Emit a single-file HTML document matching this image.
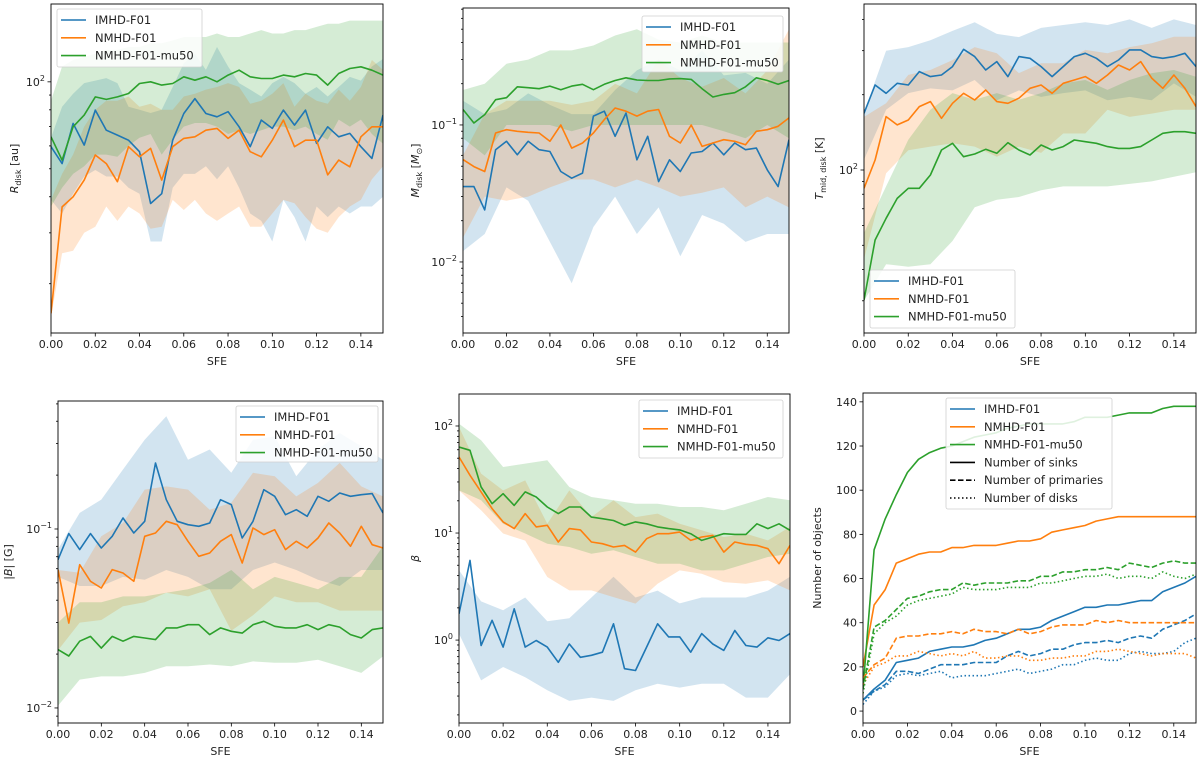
<!DOCTYPE html>
<html><head><meta charset="utf-8"><style>
html,body{margin:0;padding:0;background:#fff}
svg{display:block;font-family:"DejaVu Sans","Liberation Sans",sans-serif}
</style></head><body>
<svg id="fig" width="1200" height="761" viewBox="0 0 1200 761" xmlns="http://www.w3.org/2000/svg"></svg>
<script>
const sfeFine=[0,0.005,0.01,0.015,0.02,0.025,0.03,0.035,0.04,0.045,0.05,0.055,0.06,0.065,0.07,0.075,0.08,0.085,0.09,0.095,0.1,0.105,0.11,0.115,0.12,0.125,0.13,0.135,0.14,0.145,0.15];
const sfeCoarse=[0,0.01,0.02,0.03,0.04,0.05,0.06,0.07,0.08,0.09,0.1,0.11,0.12,0.13,0.14,0.15];
const xTicks=[0,0.02,0.04,0.06,0.08,0.10,0.12,0.14];
const xTickLabels=["0.00","0.02","0.04","0.06","0.08","0.10","0.12","0.14"];
const seriesNames=["IMHD-F01","NMHD-F01","NMHD-F01-mu50"];

// Panel 1: R_disk
const p1Blue=[59.6,52.1,71.8,60.4,79.8,68.0,65.4,62.8,57.3,37.9,41.0,62.8,77.7,87.5,77.7,75.7,78.8,69.9,59.6,73.7,69.0,79.8,70.8,79.8,61.2,69.9,64.5,66.3,59.6,54.3,76.7];
const p1Orange=[15.8,36.9,40.0,45.7,55.8,52.1,45.1,59.6,55.0,58.8,45.7,59.6,63.7,64.5,68.0,69.0,63.7,68.0,57.3,55.0,62.8,73.7,59.6,62.8,62.8,47.6,53.6,50.8,64.5,69.9,69.9];
const p1Green=[64.5,53.6,69.9,76.7,88.7,86.9,88.7,91.1,98.7,100,97.4,98.7,104.1,101.3,104.1,100,105.5,109.7,104.1,102.7,102.7,105.5,104.1,106.9,105.5,97.4,106.9,111.2,112.7,109.7,105.5];
const p1BlueHi=[64,82,91,99,101,103,99,82,80,78,80,96,116,125,110,132,113,99,94,89,99,104,99,91,96,89,96,104,101,113,120];
const p1BlueLo=[39,35,41,47,49.5,47,47,43,41,28,28,43,48,48,51,46,51,43,35,33,28,39,34,28,37,34,37,35,37,37,40];
const p1OrangeHi=[39,48,56,70,80,86,86,89,82,84,80,80,89,91,94,96,99,96,84,86,91,99,82,91,86,84,94,86,96,119,110];
const p1OrangeLo=[15.3,25.5,26,30,31.5,37,33,37,35,31,31.5,39,36,39,35,33,35,37,31.5,31.5,35,39,38,34,31,30,34,37,39,46,51];
const p1GreenHi=[86,113,119,122,125,129,129,132,132,136,136,139,143,143,143,147,143,143,147,151,147,147,151,151,155,159,159,163,163,163,163];
const p1GreenLo=[37,43,48,51,56,56,55,60,64,66,56,63,70,72,72,70,66,68,66,68,70,70,68,70,66,63,74,70,74,66,61];

// Panel 2: M_disk
const p2Blue=[0.0355,0.0355,0.024,0.066,0.076,0.0606,0.076,0.066,0.064,0.0457,0.0409,0.0445,0.116,0.126,0.0826,0.122,0.0557,0.0826,0.0386,0.0557,0.0457,0.0624,0.064,0.0738,0.0606,0.0738,0.066,0.0678,0.047,0.0355,0.078];
const p2Orange=[0.056,0.0497,0.0457,0.0874,0.0924,0.0899,0.0884,0.0874,0.076,0.1,0.0678,0.0738,0.0874,0.1094,0.133,0.126,0.116,0.126,0.1296,0.0826,0.0738,0.1,0.0697,0.0738,0.078,0.076,0.0717,0.0899,0.0924,0.0978,0.1126];
const p2Green=[0.1296,0.1034,0.119,0.153,0.158,0.19,0.187,0.184,0.192,0.181,0.192,0.198,0.181,0.198,0.211,0.221,0.213,0.211,0.211,0.217,0.218,0.215,0.184,0.160,0.167,0.172,0.19,0.221,0.211,0.198,0.211];
const p2BlueHi=[0.15,0.12,0.13,0.17,0.14,0.12,0.12,0.18,0.25,0.3,0.25,0.35,0.23,0.24,0.2,0.3];
const p2BlueLo=[0.012,0.016,0.035,0.028,0.014,0.007,0.018,0.03,0.016,0.025,0.011,0.022,0.019,0.014,0.016,0.016];
const p2OrangeHi=[0.06,0.12,0.15,0.15,0.15,0.14,0.15,0.2,0.17,0.3,0.22,0.19,0.22,0.17,0.25,0.5];
const p2OrangeLo=[0.015,0.03,0.028,0.03,0.035,0.04,0.04,0.035,0.04,0.035,0.03,0.032,0.035,0.025,0.03,0.025];
const p2GreenHi=[0.18,0.2,0.28,0.3,0.35,0.35,0.38,0.45,0.5,0.42,0.4,0.45,0.4,0.4,0.4,0.4];
const p2GreenLo=[0.08,0.06,0.1,0.1,0.1,0.09,0.1,0.1,0.1,0.1,0.1,0.1,0.09,0.08,0.1,0.08];

// Panel 3: T_mid,disk
const p3Blue=[168.6,218.8,202.6,222.2,218.8,247.4,236.3,239.9,259.0,303.9,284,251.2,271.3,236.3,284,279.7,259.0,236.3,259.0,284,292.9,279.7,259.0,275.4,302,302,284,279.7,284,292.9,259.0];
const p3Orange=[84.5,109.6,163.5,151.4,158.5,179.2,187.7,161,184.8,202.6,190.5,208.9,187.7,184.8,193.6,212.2,218.8,202.6,222.2,229,236.3,222.2,239.9,263,251.2,271.3,233,212.2,239.9,212.2,179.2];
const p3Green=[30.2,52.5,64.1,77,84.5,84.5,95.5,120.2,127.9,113,115.9,121,116.6,128.6,120.2,114.8,125.9,120.2,124,131.8,129.8,127.9,124,122,122,124,131.8,140.2,142.3,142.3,140.2];
const p3BlueHi=[170,300,310,330,360,390,350,340,370,380,390,380,400,370,400,380];
const p3BlueLo=[110,174,203,212,208,229,190,208,196,203,208,190,196,190,222,196];
const p3OrangeHi=[163,185,240,251,275,310,293,244,267,267,302,293,310,321,341,341];
const p3OrangeLo=[44,97,120,124,128,124,113,124,117,140,140,174,163,168,174,174];
const p3GreenHi=[56,86,132,174,203,191,203,191,203,222,229,209,229,244,251,236];
const p3GreenLo=[30,42,41,42,52,71,76,78,83,86,86,86,88,90,94,98];

// Panel 4: |B|
const p4Blue=[0.0674,0.0942,0.0767,0.0942,0.0783,0.0910,0.1152,0.0950,0.1104,0.2337,0.1458,0.1104,0.1057,0.1035,0.1080,0.1458,0.1368,0.0891,0.1104,0.1658,0.1522,0.1202,0.1282,0.1177,0.1522,0.1428,0.1589,0.1522,0.1555,0.1576,0.1228];
const p4Orange=[0.0593,0.0298,0.0632,0.051,0.0468,0.0593,0.0568,0.051,0.0910,0.0950,0.1104,0.1057,0.0853,0.0704,0.0734,0.0853,0.0930,0.0646,0.1013,0.0930,0.0991,0.0767,0.0853,0.0783,0.0891,0.108,0.0950,0.0800,0.1035,0.0817,0.0783];
const p4Green=[0.0212,0.0195,0.0236,0.0251,0.0216,0.0251,0.0236,0.0251,0.0246,0.0241,0.028,0.028,0.0292,0.0292,0.0257,0.028,0.0268,0.0262,0.0292,0.0305,0.0286,0.028,0.028,0.0292,0.0274,0.0292,0.0283,0.0257,0.0246,0.0274,0.028];
const p4BlueHi=[0.077,0.123,0.146,0.215,0.315,0.426,0.244,0.278,0.206,0.315,0.33,0.197,0.278,0.344,0.29,0.244];
const p4BlueLo=[0.054,0.048,0.048,0.054,0.052,0.059,0.054,0.046,0.046,0.059,0.065,0.059,0.052,0.048,0.059,0.059];
const p4OrangeHi=[0.059,0.057,0.091,0.108,0.166,0.173,0.166,0.128,0.140,0.206,0.197,0.152,0.181,0.234,0.173,0.152];
const p4OrangeLo=[0.021,0.030,0.031,0.037,0.039,0.044,0.042,0.046,0.027,0.033,0.042,0.039,0.039,0.035,0.035,0.035];
const p4GreenHi=[0.030,0.039,0.039,0.042,0.042,0.044,0.046,0.050,0.059,0.046,0.054,0.050,0.046,0.054,0.054,0.080];
const p4GreenLo=[0.0103,0.0144,0.015,0.015,0.0157,0.0171,0.0171,0.0175,0.0171,0.0182,0.0179,0.0179,0.0186,0.0171,0.0157,0.0194];

// Panel 5: beta
const p5Blue=[1.76,5.55,0.89,1.53,0.86,1.96,0.86,0.99,0.86,0.62,0.92,0.69,0.72,0.77,1.42,0.54,0.52,0.86,1.42,1.07,1.07,0.77,1.15,0.92,0.80,1.23,0.89,0.86,1.05,0.99,1.15];
const p5Orange=[51.3,34.6,24.2,16.9,12.7,11,15.2,11.4,11.8,8.24,11,10.7,8.24,7.95,7.4,7.67,6.64,8.85,9.86,9.86,10.2,8.54,9.18,9.51,6.64,8.24,7.84,7.67,7.14,5.17,7.67];
const p5Green=[63.6,59.3,26.9,18.8,23.3,18.1,24.2,21.7,17.5,15.2,17.5,17.5,14.1,13.6,13.1,11.8,12.7,12.2,11.4,11.0,10.7,9.86,8.54,9.18,9.86,9.72,9.72,12.2,11.0,12.2,10.6];
const p5BlueHi=[4.5,2.3,1.9,2.5,1.5,1.6,2.5,3.9,2.5,2.9,2.2,2.5,2.5,2.5,2.9,3.9];
const p5BlueLo=[1.15,0.42,0.56,0.45,0.34,0.27,0.29,0.27,0.34,0.39,0.36,0.39,0.39,0.29,0.29,0.48];
const p5OrangeHi=[97.9,35.9,25,31,12.2,25,14.1,20.2,14.1,15.2,12.2,10.6,9.18,9.86,8.54,11.4];
const p5OrangeLo=[25,16.3,9.9,8.5,3.88,2.91,2.91,2.52,2.19,3.36,4.48,4.17,3.48,3.36,3.61,2.91];
const p5GreenHi=[105,73.5,41.4,44.5,47.8,26.9,21.7,20.2,18.8,18.8,17.5,17.5,16.3,18.8,21.7,20.2];
const p5GreenLo=[25,20.2,12.2,9.9,7.95,7.4,6.41,6.89,5.97,5.17,5.17,4.48,4.48,5.17,5.97,6.41];

// Panel 6: number of objects
const p6BlueSinks=[5,10,14,22,23,24,27,28,29,29,30,32,33,35,37,37,38,41,43,45,47,47,48,48,49,50,50,54,56,58,61];
const p6OrangeSinks=[20,48,55,67,69,71,72,72,74,74,75,75,75,76,77,77,78,81,82,83,84,86,87,88,88,88,88,88,88,88,88];
const p6GreenSinks=[10,73,87,98,108,114,117,119,120,122,124,125,126,128,129,130,130,130,130,131,133,133,133,134,135,135,135,137,138,138,138];
const p6BluePrimaries=[5,9,12,18,18,17,19,21,21,21,22,22,22,25,27,25,26,28,28,30,31,31,32,31,33,34,33,37,39,41,44];
const p6OrangePrimaries=[15,21,24,33,34,34,35,35,36,35,37,36,36,35,37,35,36,38,39,39,39,41,40,41,40,40,40,40,40,40,40];
const p6GreenPrimaries=[10,38,41,46,51,52,54,55,55,58,57,58,58,58,59,59,61,61,63,63,64,64,65,64,67,66,65,67,68,67,67];
const p6BlueDisks=[3,9,11,16,17,16,17,18,15,16,16,16,17,18,19,17,18,19,21,21,23,24,23,23,26,27,26,26,27,31,33];
const p6OrangeDisks=[12,20,22,25,25,27,26,25,26,25,27,24,24,25,25,23,23,24,24,25,25,27,27,28,27,26,25,26,26,26,24];
const p6GreenDisks=[8,35,40,43,48,50,51,52,53,56,55,55,55,56,56,56,58,58,59,60,61,61,62,60,61,61,60,63,61,60,62];
const p6YTicks=[0,20,40,60,80,100,120,140];

const NS="http://www.w3.org/2000/svg";
const svg=document.getElementById('fig');
const COLORS=["#1f77b4","#ff7f0e","#2ca02c"];
function mk(tag,attrs,parent){const e=document.createElementNS(NS,tag);for(const k in attrs)e.setAttribute(k,attrs[k]);(parent||svg).appendChild(e);return e;}

function makePanel(cfg){
  const g=mk('g',{});
  
  
  const {L,R,T,B}=cfg;
  const sx=v=>L+v/0.15*(R-L);
  let sy;
  if(cfg.log){const a=Math.log10(cfg.ymin),b=Math.log10(cfg.ymax);sy=v=>B-(Math.log10(v)-a)/(b-a)*(B-T);}
  else{sy=v=>B-(v-cfg.ymin)/(cfg.ymax-cfg.ymin)*(B-T);}
  const cid='clip-'+cfg.name;
  const defs=mk('defs',{},g);
  mk('rect',{x:L,y:T,width:R-L,height:B-T},mk('clipPath',{id:cid},defs));
  const plot=mk('g',{'clip-path':'url(#'+cid+')'},g);
  
  
  (cfg.bands||[]).forEach((bd,i)=>{
    const pts=bd.x.map((x,j)=>sx(x).toFixed(1)+','+sy(bd.hi[j]).toFixed(1));
    for(let j=bd.x.length-1;j>=0;j--)pts.push(sx(bd.x[j]).toFixed(1)+','+sy(bd.lo[j]).toFixed(1));
    const p=mk('polygon',{points:pts.join(' '),fill:bd.color,'fill-opacity':0.2,stroke:'none'},plot);
    
    
  });
  (cfg.lines||[]).forEach(ln=>{
    const pts=ln.x.map((x,j)=>sx(x).toFixed(1)+','+sy(ln.y[j]).toFixed(1)).join(' ');
    const a={points:pts,fill:'none',stroke:ln.color,'stroke-width':1.6,'stroke-linejoin':'round'};
    if(ln.dash)a['stroke-dasharray']=ln.dash;
    const p=mk('polyline',a,plot);
    
    
  });
  // frame
  const fr=mk('rect',{x:L,y:T,width:R-L,height:B-T,fill:'none',stroke:'#000','stroke-width':0.9},g);
  
  
  // x ticks
  const xa=mk('g',{},g);
  
  
  xTicks.forEach((t,i)=>{
    mk('line',{x1:sx(t),x2:sx(t),y1:B,y2:B+3.5,stroke:'#000','stroke-width':0.8},xa);
    const tx=mk('text',{x:sx(t),y:B+15,'font-size':11,'text-anchor':'middle',fill:'#222'},xa);
    tx.textContent=xTickLabels[i];
  });
  const xt=mk('text',{x:(L+R)/2,y:B+32,'font-size':11,'text-anchor':'middle',fill:'#222'},g);
  xt.textContent='SFE';
  
  
  // y ticks
  const ya=mk('g',{},g);
  
  
  if(cfg.log){
    const a=Math.floor(Math.log10(cfg.ymin)),b=Math.ceil(Math.log10(cfg.ymax));
    for(let n=a;n<=b;n++){for(let k=1;k<10;k++){const v=k*Math.pow(10,n);if(v<cfg.ymin||v>cfg.ymax)continue;const y=sy(v);
      mk('line',{x1:L,x2:L-(k===1?3.5:2),y1:y,y2:y,stroke:'#000','stroke-width':0.8},ya);
      if(k===1){const tx=mk('text',{x:L-6,y:y+4,'font-size':11,'text-anchor':'end',fill:'#222'},ya);
        tx.appendChild(document.createTextNode('10'));
        const sp=mk('tspan',{dy:-5,'font-size':8},tx);sp.textContent=(n<0?'\u2212'+(-n):''+n);}
    }}
  } else {
    cfg.yticks.forEach(t=>{const y=sy(t);mk('line',{x1:L,x2:L-3.5,y1:y,y2:y,stroke:'#000','stroke-width':0.8},ya);
      const tx=mk('text',{x:L-6,y:y+4,'font-size':11,'text-anchor':'end',fill:'#222'},ya);tx.textContent=String(t);});
  }
  // y label
  const yl=mk('text',{x:0,y:0,'font-size':11,'text-anchor':'middle',fill:'#222',transform:`translate(${cfg.ylx},${(T+B)/2}) rotate(-90)`},g);
  
  
  cfg.ylabel(yl);
  // legend
  const lg=cfg.legend;
  const lgG=mk('g',{},g);
  
  
  mk('rect',{x:lg.x,y:lg.y,width:lg.w,height:lg.h,rx:2,fill:'#fff','fill-opacity':0.85,stroke:'#d0d0d0','stroke-width':0.8},lgG);
  lg.items.forEach((it,i)=>{
    const e=mk('g',{},lgG);
    
    
    const yy=lg.y+11+i*17.8;
    const la={x1:lg.x+4,x2:lg.x+29,y1:yy,y2:yy,stroke:it.color,'stroke-width':1.6};
    if(it.dash)la['stroke-dasharray']=it.dash;
    mk('line',la,e);
    const tx=mk('text',{x:lg.x+38,y:yy+4,'font-size':11.5,fill:'#222'},e);tx.textContent=it.label;
  });
}
function sub(el,main,subt,tail,italic){
  const m=mk('tspan',{'font-style':italic?'italic':'normal'},el);m.textContent=main;
  const s=mk('tspan',{dy:3,'font-size':8},el);s.textContent=subt;
  const t=mk('tspan',{dy:-3},el);t.textContent=tail;
}
const std3=seriesNames.map((n,i)=>({label:n,color:COLORS[i]}));
function bands3(x,hi,lo){return hi.map((h,i)=>({x:x,hi:h,lo:lo[i],color:COLORS[i],dname:'band-'+seriesNames[i].toLowerCase()}));}
function lines3(x,ys){return ys.map((y,i)=>({x:x,y:y,color:COLORS[i],dname:'line-'+seriesNames[i].toLowerCase()}));}

makePanel({name:'panel-rdisk',L:51,R:383,T:4,B:333,log:true,ymin:13.5,ymax:186,ylx:18,
  ylabel:el=>sub(el,'R','disk',' [au]',true),
  bands:bands3(sfeFine,[p1BlueHi,p1OrangeHi,p1GreenHi],[p1BlueLo,p1OrangeLo,p1GreenLo]),
  lines:lines3(sfeFine,[p1Blue,p1Orange,p1Green]),
  legend:{x:57,y:9,w:145,h:58,items:std3}});
makePanel({name:'panel-mdisk',L:463,R:789,T:8,B:333,log:true,ymin:0.00303,ymax:0.714,ylx:419,
  ylabel:el=>{sub(el,'M','disk',' [',true);const m=mk('tspan',{'font-style':'italic'},el);m.textContent='M';const s=mk('tspan',{dy:3,'font-size':8},el);s.textContent='\u2299';const t=mk('tspan',{dy:-3},el);t.textContent=']';},
  bands:bands3(sfeCoarse,[p2BlueHi,p2OrangeHi,p2GreenHi],[p2BlueLo,p2OrangeLo,p2GreenLo]),
  lines:lines3(sfeFine,[p2Blue,p2Orange,p2Green]),
  legend:{x:642,y:16,w:141,h:56,items:std3}});
makePanel({name:'panel-tmid',L:864,R:1196,T:4,B:333,log:true,ymin:22.3,ymax:461,ylx:823,
  ylabel:el=>sub(el,'T','mid, disk',' [K]',true),
  bands:bands3(sfeCoarse,[p3BlueHi,p3OrangeHi,p3GreenHi],[p3BlueLo,p3OrangeLo,p3GreenLo]),
  lines:lines3(sfeFine,[p3Blue,p3Orange,p3Green]),
  legend:{x:870,y:270,w:145,h:58,items:std3}});
makePanel({name:'panel-bfield',L:58,R:383,T:401,B:723,log:true,ymin:0.00824,ymax:0.519,ylx:12,
  ylabel:el=>{const a=mk('tspan',{},el);a.textContent='|';const b=mk('tspan',{'font-style':'italic'},el);b.textContent='B';const c=mk('tspan',{},el);c.textContent='| [G]';},
  bands:bands3(sfeCoarse,[p4BlueHi,p4OrangeHi,p4GreenHi],[p4BlueLo,p4OrangeLo,p4GreenLo]),
  lines:lines3(sfeFine,[p4Blue,p4Orange,p4Green]),
  legend:{x:236,y:406,w:142,h:56,items:std3}});
makePanel({name:'panel-beta',L:459,R:790,T:394,B:723,log:true,ymin:0.168,ymax:199,ylx:419,
  ylabel:el=>{const b=mk('tspan',{'font-style':'italic'},el);b.textContent='\u03b2';},
  bands:bands3(sfeCoarse,[p5BlueHi,p5OrangeHi,p5GreenHi],[p5BlueLo,p5OrangeLo,p5GreenLo]),
  lines:lines3(sfeFine,[p5Blue,p5Orange,p5Green]),
  legend:{x:639,y:400,w:144,h:58,items:std3}});
makePanel({name:'panel-counts',L:863,R:1196,T:393,B:723,log:false,ymin:-5.4,ymax:144,yticks:p6YTicks,ylx:821,
  ylabel:el=>{el.textContent='Number of objects';},
  lines:[
    {x:sfeFine,y:p6BlueSinks,color:COLORS[0],dname:'imhd-sinks'},
    {x:sfeFine,y:p6OrangeSinks,color:COLORS[1],dname:'nmhd-sinks'},
    {x:sfeFine,y:p6GreenSinks,color:COLORS[2],dname:'mu50-sinks'},
    {x:sfeFine,y:p6BluePrimaries,color:COLORS[0],dash:'5.5,2.5',dname:'imhd-primaries'},
    {x:sfeFine,y:p6OrangePrimaries,color:COLORS[1],dash:'5.5,2.5',dname:'nmhd-primaries'},
    {x:sfeFine,y:p6GreenPrimaries,color:COLORS[2],dash:'5.5,2.5',dname:'mu50-primaries'},
    {x:sfeFine,y:p6BlueDisks,color:COLORS[0],dash:'1.5,2.5',dname:'imhd-disks'},
    {x:sfeFine,y:p6OrangeDisks,color:COLORS[1],dash:'1.5,2.5',dname:'nmhd-disks'},
    {x:sfeFine,y:p6GreenDisks,color:COLORS[2],dash:'1.5,2.5',dname:'mu50-disks'}],
  legend:{x:946,y:398,w:166,h:111,items:std3.concat([
    {label:'Number of sinks',color:'#000'},
    {label:'Number of primaries',color:'#000',dash:'5.5,2.5'},
    {label:'Number of disks',color:'#000',dash:'1.5,2.5'}])}});
</script>
</body></html>
